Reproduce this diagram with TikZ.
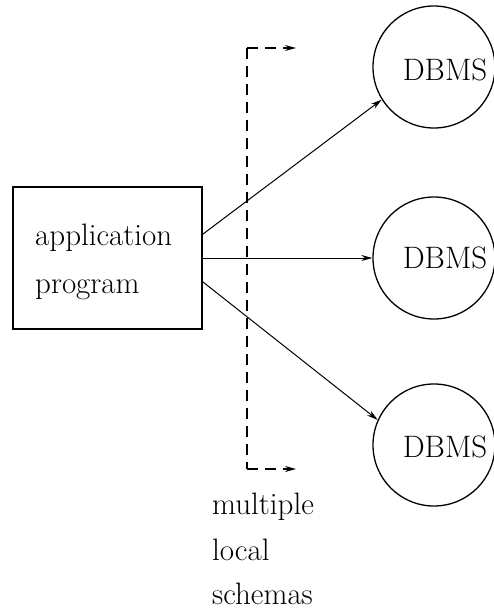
\documentclass[tikz,border=0pt]{standalone}
\usetikzlibrary{arrows.meta}
\begin{document}
\begin{tikzpicture}[x=1pt,y=-1pt,
  every node/.style={font=\fontsize{31}{36}\selectfont},
  dbcircle/.style={draw,circle,line width=1.3pt,minimum size=122pt,inner sep=0pt},
  boxst/.style={draw,rectangle,line width=1.3pt,minimum width=189pt,minimum height=142pt,inner sep=0pt},
  lbl/.style={anchor=base west,inner sep=0pt},
  conn/.style={line width=1pt,-{Stealth[length=11pt,width=6pt]}},
  dashst/.style={line width=1.3pt,dash pattern=on 11pt off 7pt}]
\useasboundingbox (0,0) rectangle (494,613);
\fill[white] (0,0) rectangle (494,613);
% application program box
\node[boxst] (box) at (107.5,258) {};
\node[lbl] (t1) at (35,245) {application};
\node[lbl] (t2) at (35,293) {program};
% DBMS circles
\node[dbcircle] (c1) at (434,67) {};
\node[dbcircle] (c2) at (434,258) {};
\node[dbcircle] (c3) at (434,445) {};
\node[anchor=center] (d1) at (445,70) {DBMS};
\node[anchor=center] (d2) at (445,258) {DBMS};
\node[anchor=center] (d3) at (445,447) {DBMS};
% connectors
\draw[conn] (box.14.8) -- (c1.212);
\draw[conn] (box.east) -- (c2.west);
\draw[conn] (box.-14.8) -- (c3.156);
% dashed bracket
\coordinate (dtop) at (247,48);
\coordinate (dbot) at (247,469);
\coordinate (tt) at (296,48);
\coordinate (bt) at (296,469);
\draw[dashst] (dtop) -- (dbot);
\draw[dashst,-{Stealth[length=11pt,width=6pt]}] (dtop) -- (tt);
\draw[dashst,-{Stealth[length=11pt,width=6pt]}] (dbot) -- (bt);
% label
\node[lbl] (m1) at (212,514) {multiple};
\node[lbl] (m2) at (212,560) {local};
\node[lbl] (m3) at (212,604) {schemas};
\end{tikzpicture}
\end{document}
